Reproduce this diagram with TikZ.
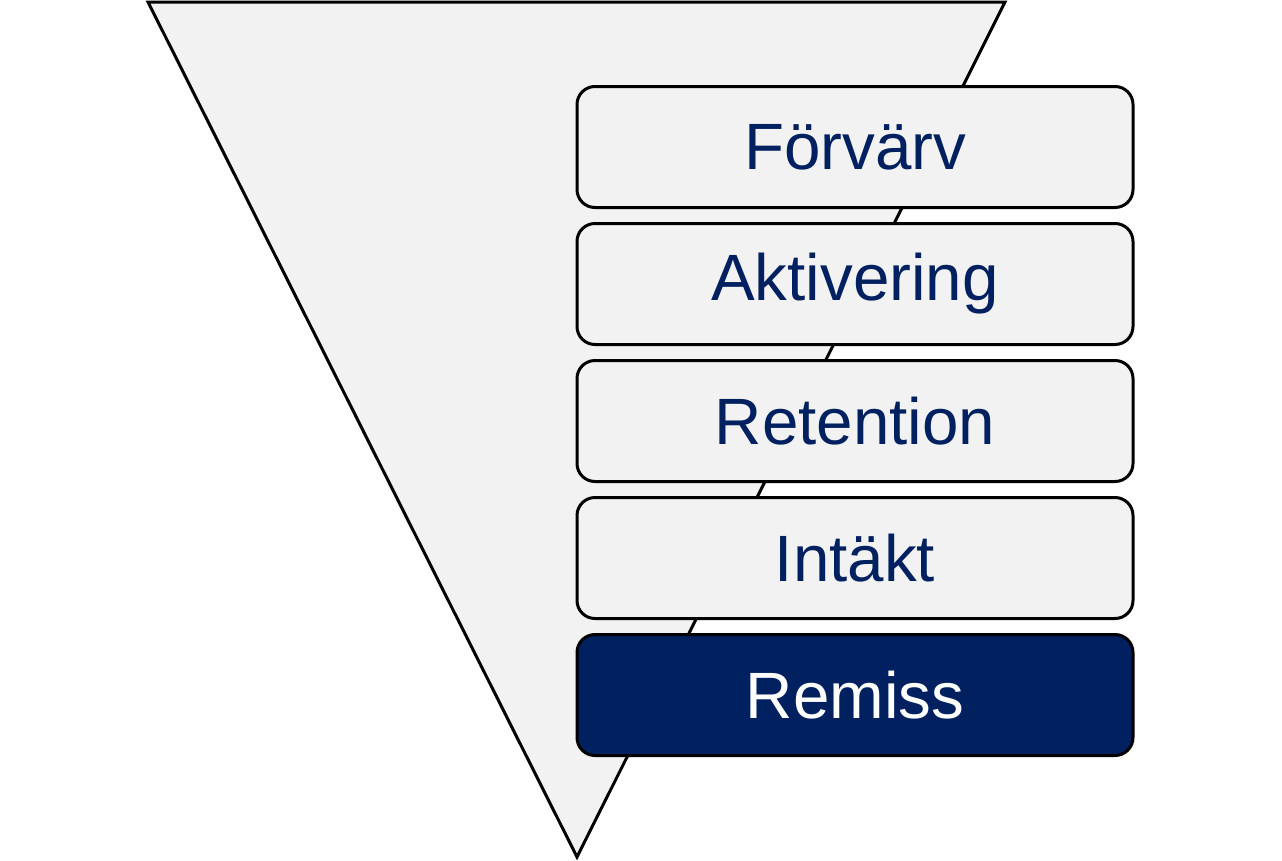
\documentclass[tikz,border=0pt]{standalone}
\usepackage{fontspec}
\setmainfont{Liberation Sans}
\definecolor{navy}{HTML}{002060}
\definecolor{lightfill}{HTML}{F2F2F2}
\tikzset{
  stagebox/.style={draw=black, line width=3pt, rounded corners=18pt, fill=lightfill,
    minimum width=556pt, minimum height=121pt, inner sep=0pt,
    text=navy, font=\fontsize{65.5}{65.5}\selectfont},
  lastbox/.style={stagebox, fill=navy, text=white}
}
\begin{document}
\begin{tikzpicture}[x=1pt,y=-1pt]
\useasboundingbox (0,0) rectangle (1282,860);
\fill[white] (0,0) rectangle (1282,860);
\draw[line width=3pt, fill=lightfill, line join=miter] (148,2) -- (1005,2) -- (577,857) -- cycle;
\node[stagebox] (s1) at (855,147) {Förvärv};
\node[stagebox] (s2) at (855,284) {Aktivering};
\node[stagebox] (s3) at (855,421) {Retention};
\node[stagebox] (s4) at (855,558) {Intäkt};
\node[lastbox] (s5) at (855,695) {Remiss};
\end{tikzpicture}
\end{document}
